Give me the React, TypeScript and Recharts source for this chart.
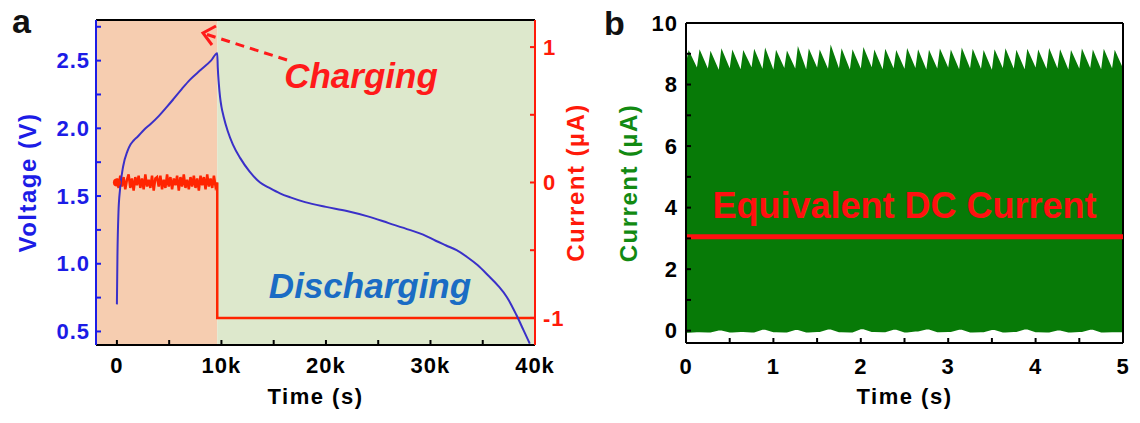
import React from 'react';
import {
  ComposedChart,
  Line,
  Area,
  XAxis,
  YAxis,
  ReferenceArea,
  ReferenceLine,
  ReferenceDot,
} from 'recharts';

const FONT = '"Liberation Sans", Arial, Helvetica, sans-serif';

// ---- panel a: voltage (V) vs time (s)
const voltTime = [
  0, 50, 150, 300, 600, 1000, 1300, 1600, 2000, 2600, 3200, 4000, 4800, 5400, 6200, 7000, 8000, 9000, 9600,
  9650, 9750, 9870, 10000, 10200, 10600, 11100, 11800, 12700, 13700, 14600, 15600, 16600, 18000, 20000,
  22000, 24000, 26000, 28000, 29300, 30500, 31500, 32500, 33500, 34500, 35500, 36500, 37300, 38200,
  38900, 39500,
];
const voltValue = [
  0.7, 1.05, 1.38, 1.55, 1.72, 1.83, 1.88, 1.91, 1.94, 1.99, 2.03, 2.09, 2.16, 2.215, 2.29, 2.36, 2.43, 2.5, 2.555,
  2.45, 2.33, 2.23, 2.16, 2.09, 1.98, 1.88, 1.78, 1.68, 1.6, 1.56, 1.52, 1.49, 1.455, 1.42,
  1.39, 1.35, 1.3, 1.25, 1.215, 1.17, 1.135, 1.1, 1.05, 0.99, 0.915, 0.835, 0.755, 0.625,
  0.51, 0.41,
];

// ---- panel a: current (µA), noisy ~0 while charging, -1 while discharging
const chargeEnd = 9600;
const noiseStep = 160;
const chargeNoise = [
  0.03, -0.04, 0.05, -0.03, 0.04, -0.05, 0.02, 0.06, -0.04, 0.03, -0.06, 0.04, -0.02, 0.05, -0.04, 0.03, -0.05, 0.06,
  -0.03, 0.02, -0.04, 0.05, -0.06, 0.03, 0.04, -0.03, 0.05, -0.05, 0.02, -0.04, 0.06, -0.03, 0.04, -0.05, 0.03, -0.02,
  0.05, -0.06, 0.04, -0.03, 0.06, -0.04, 0.02, -0.05, 0.04, -0.03, 0.05, -0.04, 0.03, -0.06, 0.05, -0.02, 0.04, -0.05,
  0.06, -0.03, 0.03, -0.04, 0.05, -0.03,
];
const dischargeCurrent = -1;
const runEnd = 40000;

const timeTicksA = [0, 5000, 10000, 15000, 20000, 25000, 30000, 35000, 40000];
const voltTicks = [0.5, 0.75, 1, 1.25, 1.5, 1.75, 2, 2.25, 2.5, 2.75];
const currTicksA = [-1, -0.5, 0, 0.5, 1];

// ---- panel b: pulsed current envelope (µA) vs time (s)
const pulsePeriod = 0.125;
const pulsePeak = [
  9.12, 9.15, 9.1, 9.18, 9.14, 9.12, 9.16, 9.2, 9.13, 9.11, 9.25, 9.17, 9.14, 9.3, 9.18, 9.15, 9.22, 9.14, 9.16, 9.12,
  9.19, 9.15, 9.13, 9.17, 9.14, 9.2, 9.16, 9.12, 9.15, 9.18, 9.13, 9.16, 9.14, 9.19, 9.15, 9.12, 9.17, 9.14, 9.16, 9.13,
];
const pulseFloor = [
  8.7, 8.55, 8.52, 8.48, 8.53, 8.5, 8.56, 8.51, 8.49, 8.54, 8.52, 8.5, 8.55, 8.51, 8.53, 8.49, 8.52, 8.56, 8.5, 8.53,
  8.51, 8.54, 8.49, 8.52, 8.55, 8.5, 8.53, 8.51, 8.48, 8.54, 8.52, 8.5, 8.55, 8.51, 8.53, 8.49, 8.52, 8.54, 8.5, 8.53,
];
const pulseLow = [
  -0.07, -0.05, -0.06, 0.01, -0.06, -0.04, -0.06, 0.03, -0.05, -0.06, 0.02, -0.06, -0.04, 0.04, -0.05, -0.06, 0.05,
  -0.04, -0.05, 0.03, -0.06, -0.03, 0.04, -0.05, -0.04, 0.03, -0.06, -0.05, 0.02, -0.06, -0.04, 0.04, -0.05, -0.06,
  0.01, -0.06, -0.04, 0.03, -0.06, -0.05,
];
const dcCurrent = 3.05;
const timeTicksB = [0, 0.5, 1, 1.5, 2, 2.5, 3, 3.5, 4, 4.5, 5];
const currTicksB = [0, 1, 2, 3, 4, 5, 6, 7, 8, 9, 10];

const voltData = voltTime.map((t, i) => ({ t, v: voltValue[i] }));
const currData = [
  ...chargeNoise.map((c, i) => ({ t: i * noiseStep, c })),
  { t: chargeEnd, c: 0 },
  { t: chargeEnd, c: dischargeCurrent },
  { t: runEnd, c: dischargeCurrent },
];
const pulseData: { t: number; band: number[] }[] = [];
pulsePeak.forEach((p, i) => {
  const t0 = i * pulsePeriod;
  pulseData.push({ t: t0, band: [pulseLow[i], pulseFloor[i]] });
  pulseData.push({ t: t0 + 0.03, band: [pulseLow[i], p] });
});
pulseData.push({ t: 5, band: [pulseLow[pulseLow.length - 1], pulseFloor[pulseFloor.length - 1]] });

const BLUE_AX = '#1c1ce6';
const RED_AX = '#ff1a0a';
const GREEN_AX = '#128a12';

const near = (a: number, b: number) => Math.abs(a - b) < 1e-6;

function makeTick(color: string, fmt: (v: number) => string) {
  return (props: any) => {
    const { x, y, payload, textAnchor, verticalAnchor } = props;
    const label = fmt(payload.value);
    if (!label) return <g />;
    const dy = verticalAnchor === 'start' ? '0.71em' : verticalAnchor === 'end' ? '0' : '0.35em';
    return (
      <text x={x} y={y} dy={dy} textAnchor={textAnchor} fill={color} fontSize={22} fontWeight="bold"
        fontFamily={FONT} letterSpacing={1}>
        {label}
      </text>
    );
  };
}

function sideTitle(text: string, color: string, side: 'left' | 'right', offset: number) {
  return (props: any) => {
    const { x, y, width, height } = props.viewBox;
    const cx = side === 'left' ? x + offset : x + width - offset;
    const cy = y + height / 2;
    return (
      <text x={cx} y={cy} transform={`rotate(-90 ${cx} ${cy})`} textAnchor="middle" dominantBaseline="central"
        fill={color} fontSize={24} fontWeight="bold" fontFamily={FONT} letterSpacing={1.5}>
        {text}
      </text>
    );
  };
}

function bottomTitle(text: string) {
  return (props: any) => {
    const { x, y, width, height } = props.viewBox;
    return (
      <text x={x + width / 2} y={y + height - 19} textAnchor="middle" fill="#000" fontSize={22} fontWeight="bold"
        fontFamily={FONT} letterSpacing={1.5}>
        {text}
      </text>
    );
  };
}

function PanelA() {
  return (
    <ComposedChart width={600} height={423} margin={{ top: 20, right: 0, bottom: 0, left: 0 }}>
      <ReferenceArea yAxisId="v" x1={-2000} x2={chargeEnd} fill="#f6cdb0" fillOpacity={1} stroke="none" />
      <ReferenceArea yAxisId="v" x1={chargeEnd} x2={runEnd} fill="#dde8cc" fillOpacity={1} stroke="none" />
      <XAxis
        dataKey="t"
        type="number"
        domain={[-2000, runEnd]}
        ticks={timeTicksA}
        interval={0}
        height={78}
        tickSize={-5}
        tickMargin={17}
        axisLine={{ stroke: '#000', strokeWidth: 2 }}
        tickLine={{ stroke: '#000', strokeWidth: 2 }}
        tick={makeTick('#000', v => (v % 10000 === 0 ? (v === 0 ? '0' : `${v / 1000}k`) : ''))}
        label={bottomTitle('Time (s)')}
      />
      <YAxis
        yAxisId="v"
        type="number"
        domain={[0.4, 2.8]}
        ticks={voltTicks}
        interval={0}
        width={96}
        tickSize={-5}
        tickMargin={11}
        axisLine={{ stroke: BLUE_AX, strokeWidth: 2 }}
        tickLine={{ stroke: BLUE_AX, strokeWidth: 2 }}
        tick={makeTick(BLUE_AX, v => (near(v * 2, Math.round(v * 2)) ? v.toFixed(1) : ''))}
        label={sideTitle('Voltage (V)', BLUE_AX, 'left', 27)}
      />
      <YAxis
        yAxisId="i"
        orientation="right"
        type="number"
        domain={[-1.2, 1.2]}
        ticks={currTicksA}
        interval={0}
        width={65}
        tickSize={-5}
        tickMargin={13}
        axisLine={{ stroke: RED_AX, strokeWidth: 2 }}
        tickLine={{ stroke: RED_AX, strokeWidth: 2 }}
        tick={makeTick(RED_AX, v => (near(v, Math.round(v)) ? String(Math.round(v)) : ''))}
        label={sideTitle('Current (\u00b5A)', RED_AX, 'right', 25)}
      />
      <ReferenceLine yAxisId="v" y={2.8} stroke="#000" strokeWidth={2} />
      <Line
        yAxisId="i"
        data={currData}
        dataKey="c"
        type="linear"
        stroke="#ff2400"
        strokeWidth={2.5}
        dot={false}
        isAnimationActive={false}
      />
      <ReferenceDot yAxisId="i" x={0} y={0} r={4} fill="#ff2400" stroke="none" />
      <Line
        yAxisId="v"
        data={voltData}
        dataKey="v"
        type="monotone"
        stroke="#3a30c8"
        strokeWidth={2}
        dot={false}
        isAnimationActive={false}
      />
    </ComposedChart>
  );
}

function PanelB() {
  return (
    <ComposedChart width={580} height={423} data={pulseData} margin={{ top: 23, right: 17, bottom: 0, left: 0 }}>
      <XAxis
        dataKey="t"
        type="number"
        domain={[0, 5]}
        ticks={timeTicksB}
        interval={0}
        height={80}
        tickSize={-5}
        tickMargin={20}
        axisLine={{ stroke: '#000', strokeWidth: 2 }}
        tickLine={{ stroke: '#000', strokeWidth: 2 }}
        tick={makeTick('#000', v => (near(v, Math.round(v)) ? String(Math.round(v)) : ''))}
        label={bottomTitle('Time (s)')}
      />
      <YAxis
        type="number"
        domain={[-0.4, 10]}
        ticks={currTicksB}
        interval={0}
        width={126}
        tickSize={-5}
        tickMargin={13}
        axisLine={{ stroke: '#000', strokeWidth: 2 }}
        tickLine={{ stroke: '#000', strokeWidth: 2 }}
        tick={makeTick('#000', v => (v % 2 === 0 ? String(v) : ''))}
        label={sideTitle('Current (\u00b5A)', GREEN_AX, 'left', 68)}
      />
      <Area
        dataKey="band"
        type="linear"
        stroke="none"
        fill="#077a07"
        fillOpacity={1}
        isAnimationActive={false}
      />
      <ReferenceLine y={10} stroke="#000" strokeWidth={2} />
      <ReferenceLine x={5} stroke="#000" strokeWidth={2} />
      <ReferenceLine
        y={dcCurrent}
        stroke="#ff1010"
        strokeWidth={5}
        label={{
          value: 'Equivalent DC Current',
          position: 'top',
          offset: 19,
          fill: '#ff1010',
          fontSize: 36,
          fontWeight: 'bold',
          fontFamily: FONT,
        }}
      />
    </ComposedChart>
  );
}

export default function App() {
  return (
    <div style={{ position: 'absolute', left: 0, top: 0, width: 1140, height: 423, background: '#fff' }}>
      <div style={{ position: 'absolute', left: 0, top: 0 }}>
        <PanelA />
      </div>
      <div style={{ position: 'absolute', left: 560, top: 0 }}>
        <PanelB />
      </div>
      <svg width={1140} height={423} style={{ position: 'absolute', left: 0, top: 0, pointerEvents: 'none' }}>
        <text x={12} y={33} fontSize={34} fontWeight="bold" fontFamily={FONT} fill="#111">a</text>
        <text x={604} y={35} fontSize={34} fontWeight="bold" fontFamily={FONT} fill="#111">b</text>
        <line x1={287} y1={60} x2={207} y2={34.5} stroke="#ff1a1a" strokeWidth={3} strokeDasharray="9 6" />
        <polyline points="216,26 203,33 212,45" fill="none" stroke="#ff1a1a" strokeWidth={3} />
        <text x={361} y={88} textAnchor="middle" fontSize={35} fontWeight="bold" fontStyle="italic"
          fontFamily={FONT} fill="#ff1a1a">Charging</text>
        <text x={370} y={298} textAnchor="middle" fontSize={35} fontWeight="bold" fontStyle="italic"
          fontFamily={FONT} fill="#1a6cc4">Discharging</text>
      </svg>
    </div>
  );
}
